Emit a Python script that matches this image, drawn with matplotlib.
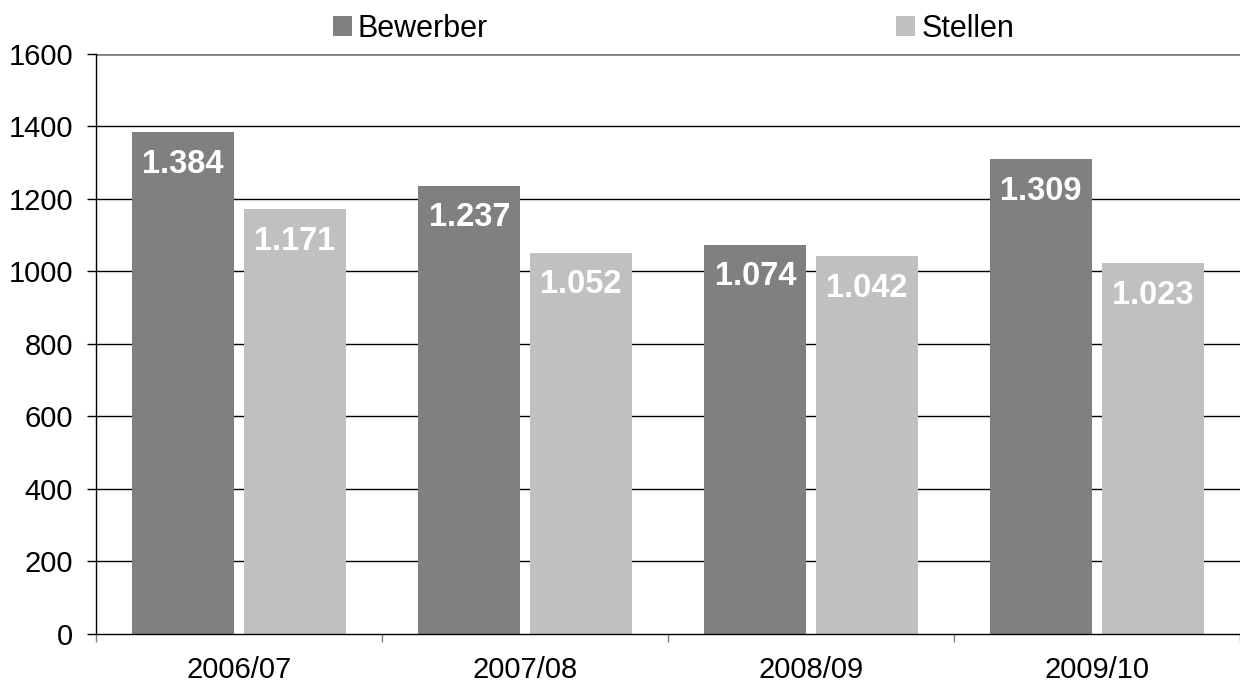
import matplotlib.pyplot as plt
import numpy as np

plt.rcParams["font.family"] = ["Liberation Sans", "DejaVu Sans"]

years = ["2006/07", "2007/08", "2008/09", "2009/10"]
bewerber = [1384, 1237, 1074, 1309]
stellen = [1171, 1052, 1042, 1023]
series_names = ["Bewerber", "Stellen"]
yticks = [0, 200, 400, 600, 800, 1000, 1200, 1400, 1600]


def fmt_de(v):
    # German thousands separator
    return f"{v:,}".replace(",", ".")


fig = plt.figure(figsize=(12.4, 6.91), dpi=100)
ax = fig.add_axes([0.0774, 0.0825, 0.9226, 0.8394])

x = np.arange(len(years))
w = 0.357
off = 0.195
b1 = ax.bar(x - off, bewerber, w, color="#808080", label=series_names[0], zorder=2)
b2 = ax.bar(x + off, stellen, w, color="#c0c0c0", label=series_names[1], zorder=2)

for bars, vals in ((b1, bewerber), (b2, stellen)):
    for rect, v in zip(bars, vals):
        ax.annotate(fmt_de(v), (rect.get_x() + rect.get_width() / 2, v),
                    xytext=(0, -23), textcoords="offset points",
                    ha="center", va="center", color="white",
                    fontsize=23.5, fontweight="bold", zorder=3)

ax.set_xlim(-0.5, len(years) - 0.5)
ax.set_ylim(0, 1600)
ax.set_yticks(yticks)
ax.tick_params(axis="y", labelsize=21, length=6.5, width=1, pad=10)

ax.set_xticks(x)
ax.set_xticklabels(years)
ax.set_xticks(np.arange(-0.5, len(years)), minor=True)
ax.tick_params(axis="x", which="major", length=0, labelsize=21, pad=16)
ax.tick_params(axis="x", which="minor", length=6, width=1, color="#808080")

for t in yticks[1:-1]:
    ax.axhline(t, color="black", lw=1, zorder=1)
ax.axhline(1600, color="#808080", lw=2, zorder=1)

ax.spines["top"].set_visible(False)
ax.spines["right"].set_visible(False)
ax.spines["left"].set_linewidth(1)
ax.spines["bottom"].set_linewidth(1)

fig.legend(handles=[b1, b2], loc="center left", bbox_to_anchor=(0.2685, 0.958),
           ncol=2, frameon=False, fontsize=22, handlelength=0.62,
           handleheight=0.62, handletextpad=0.2, columnspacing=13.35,
           borderpad=0, borderaxespad=0)

fig.savefig("out.png", dpi=100)
